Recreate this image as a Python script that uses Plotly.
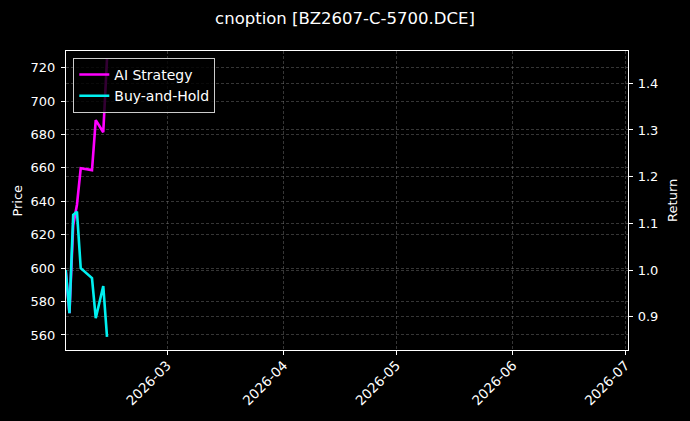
import plotly.graph_objects as go

# Backtest equity curves (return multiple)
dates = ["2026-02-02", "2026-02-03", "2026-02-04", "2026-02-05", "2026-02-06",
         "2026-02-09", "2026-02-10", "2026-02-12", "2026-02-13"]
ai_strategy = [1.000, 0.908, 1.096, 1.140, 1.218, 1.214, 1.321, 1.295, 1.452]
buy_and_hold = [1.000, 0.908, 1.118, 1.125, 1.004, 0.983, 0.897, 0.966, 0.857]

price_ticks = [560, 580, 600, 620, 640, 660, 680, 700, 720]
return_ticks = [0.9, 1.0, 1.1, 1.2, 1.3, 1.4]
date_ticks = ["2026-03-01", "2026-04-01", "2026-05-01", "2026-06-01", "2026-07-01"]
date_labels = ["2026-03", "2026-04", "2026-05", "2026-06", "2026-07"]

FONT = "DejaVu Sans"
GRID = "rgba(128,128,128,0.42)"

fig = go.Figure()
# empty price trace, only so that the left Price axis is drawn
fig.add_trace(go.Scatter(x=[], y=[], name="Price", mode="lines",
                         showlegend=False, hoverinfo="skip", yaxis="y"))
fig.add_trace(go.Scatter(x=dates, y=ai_strategy, name="AI Strategy", mode="lines",
                         line=dict(color="#ff00ff", width=2.6), yaxis="y2"))
fig.add_trace(go.Scatter(x=dates, y=buy_and_hold, name="Buy-and-Hold", mode="lines",
                         line=dict(color="#00f0f0", width=2.6), yaxis="y2"))

axis_common = dict(
    showline=True, linecolor="white", linewidth=1.2,
    ticks="outside", tickcolor="white", ticklen=4,
    showgrid=True, gridcolor=GRID, griddash="3px,2px", gridwidth=0.6,
    zeroline=False, automargin=False,
)
ytick_font = dict(family=FONT, size=13, color="white")
xtick_font = dict(family=FONT, size=13.5, color="white")

fig.update_layout(
    width=690, height=421,
    paper_bgcolor="black", plot_bgcolor="black",
    margin=dict(l=66, r=62, t=51, b=71),
    title=dict(text="cnoption [BZ2607-C-5700.DCE]", x=0.5, xanchor="center",
               y=0.957, yanchor="middle",
               font=dict(family=FONT, size=16.5, color="white"),
               automargin=False),
    showlegend=True,
    legend=dict(x=0.013, y=0.977, xanchor="left", yanchor="top",
                bgcolor="rgba(0,0,0,0.8)", bordercolor="#cccccc", borderwidth=1,
                font=dict(family=FONT, size=14, color="white"),
                itemwidth=30, tracegroupgap=0),
    xaxis=dict(**axis_common, type="date",
               range=["2026-02-02 02:00", "2026-07-01 16:00"],
               tickvals=date_ticks, ticktext=date_labels, tickangle=-45,
               tickfont=xtick_font, ticklabelstandoff=-3, mirror=True),
    yaxis=dict(**axis_common, range=[551, 730], tickvals=price_ticks,
               tickfont=ytick_font, ticklabelstandoff=3),
    yaxis2=dict(**axis_common, overlaying="y", side="right",
                range=[0.829, 1.469], tickvals=return_ticks,
                tickformat=".1f", tickfont=ytick_font, ticklabelstandoff=2),
)

# axis titles placed as annotations so their distance from the ticks is fixed
fig.add_annotation(text="Price", xref="paper", yref="paper", x=-0.087, y=0.5,
                   textangle=-90, showarrow=False, xanchor="center", yanchor="middle",
                   font=dict(family=FONT, size=13, color="white"))
fig.add_annotation(text="Return", xref="paper", yref="paper", x=1.079, y=0.5,
                   textangle=-90, showarrow=False, xanchor="center", yanchor="middle",
                   font=dict(family=FONT, size=13, color="white"))

# page margin off and black, so the figure fills the window like the reference
page_css = "document.body.style.margin='0';document.body.style.background='black';"
fig.write_html("out.html", post_script=page_css, config={"displayModeBar": False})
